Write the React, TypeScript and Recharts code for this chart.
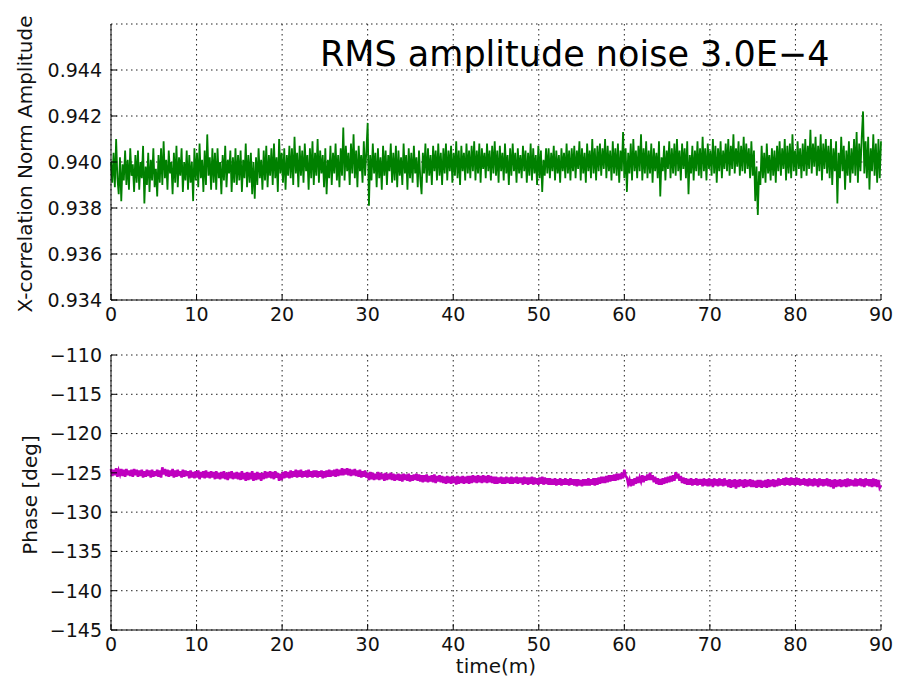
import React from 'react'
import { LineChart, Line, XAxis, YAxis, CartesianGrid, Customized } from 'recharts'

// sampling step of both traces, minutes
const STEP = 0.15

// X-correlation normalised amplitude, one value per STEP (0 .. 90 min)
const amplitude = [
  0.94, 0.9391, 0.9404, 0.9389, 0.941, 0.9393, 0.9386, 0.9402, 0.9383, 0.9399,
  0.9392, 0.9405, 0.939, 0.9401, 0.9388, 0.9406, 0.9394, 0.9399, 0.9387, 0.9403,
  0.9391, 0.9405, 0.9388, 0.94, 0.9393, 0.9407, 0.9382, 0.9398, 0.939, 0.9404,
  0.9387, 0.9401, 0.9392, 0.9406, 0.9389, 0.9397, 0.9385, 0.9403, 0.9391, 0.9406,
  0.939, 0.9409, 0.9393, 0.9401, 0.9388, 0.9405, 0.9395, 0.94, 0.9386, 0.9404,
  0.9391, 0.9407, 0.9389, 0.9402, 0.9394, 0.9406, 0.9387, 0.94, 0.9392, 0.9405,
  0.9388, 0.9403, 0.9391, 0.94, 0.9383, 0.9406, 0.9392, 0.9404, 0.9389, 0.9408,
  0.9393, 0.9401, 0.9387, 0.9405, 0.939, 0.9412, 0.9394, 0.9402, 0.9388, 0.9406,
  0.9391, 0.9404, 0.9388, 0.9406, 0.9393, 0.94, 0.9386, 0.9403, 0.9392, 0.9407,
  0.9389, 0.9401, 0.9395, 0.9405, 0.9387, 0.9402, 0.9391, 0.9406, 0.939, 0.9403,
  0.9392, 0.9405, 0.9387, 0.9401, 0.9393, 0.9408, 0.9389, 0.9403, 0.9391, 0.9404,
  0.9386, 0.94, 0.9384, 0.9402, 0.939, 0.9406, 0.9393, 0.9401, 0.9388, 0.9405,
  0.9392, 0.9407, 0.9389, 0.9403, 0.9394, 0.9406, 0.939, 0.9408, 0.9393, 0.9402,
  0.9387, 0.941, 0.9395, 0.9404, 0.9391, 0.9406, 0.9388, 0.9403, 0.9394, 0.9407,
  0.9393, 0.9406, 0.939, 0.9411, 0.9395, 0.9404, 0.9389, 0.9407, 0.9394, 0.9405,
  0.9391, 0.9408, 0.9396, 0.9403, 0.9388, 0.9406, 0.9393, 0.9409, 0.939, 0.9404,
  0.9394, 0.941, 0.9391, 0.9405, 0.9395, 0.9403, 0.9389, 0.9406, 0.9386, 0.9401,
  0.9393, 0.9407, 0.939, 0.9404, 0.9395, 0.9408, 0.9392, 0.9403, 0.9389, 0.9406,
  0.9394, 0.9415, 0.9392, 0.9407, 0.9396, 0.9404, 0.939, 0.9408, 0.9395, 0.9412,
  0.9393, 0.9405, 0.9389, 0.9407, 0.9396, 0.9403, 0.9391, 0.9409, 0.9394, 0.9405,
  0.9417, 0.9381, 0.9403, 0.9392, 0.9408, 0.9395, 0.9404, 0.9389, 0.9406, 0.9393,
  0.9402, 0.9388, 0.9407, 0.9394, 0.9405, 0.939, 0.9403, 0.9396, 0.9408, 0.9391,
  0.9404, 0.9392, 0.9407, 0.9389, 0.9405, 0.9394, 0.9402, 0.939, 0.9408, 0.9395,
  0.9403, 0.9388, 0.9406, 0.9393, 0.9404, 0.9391, 0.9407, 0.9395, 0.9402, 0.9389,
  0.9405, 0.9393, 0.9386, 0.9404, 0.9395, 0.9408, 0.9391, 0.9406, 0.9394, 0.9403,
  0.939, 0.9407, 0.9396, 0.9405, 0.9392, 0.9408, 0.9394, 0.9404, 0.939, 0.9406,
  0.9395, 0.9408, 0.9392, 0.9405, 0.9396, 0.9407, 0.9391, 0.9404, 0.9394, 0.9409,
  0.9393, 0.9405, 0.939, 0.9407, 0.9396, 0.9404, 0.9392, 0.9408, 0.9395, 0.9405,
  0.9393, 0.9407, 0.9396, 0.9409, 0.9392, 0.9405, 0.9395, 0.9408, 0.9391, 0.9406,
  0.9397, 0.9404, 0.9393, 0.9408, 0.9396, 0.9405, 0.9392, 0.9407, 0.9395, 0.9409,
  0.9394, 0.9405, 0.9391, 0.9407, 0.9396, 0.9404, 0.9392, 0.9408, 0.9395, 0.9403,
  0.939, 0.9406, 0.9394, 0.9408, 0.9396, 0.9404, 0.9391, 0.9406, 0.9395, 0.9403,
  0.9393, 0.9407, 0.9396, 0.9405, 0.9391, 0.9404, 0.9394, 0.9408, 0.9392, 0.9406,
  0.9395, 0.9403, 0.939, 0.9407, 0.9393, 0.9405, 0.9387, 0.9401, 0.9394, 0.9406,
  0.9395, 0.9406, 0.9393, 0.9404, 0.9396, 0.9407, 0.9392, 0.9405, 0.9395, 0.9403,
  0.9391, 0.9406, 0.9396, 0.9404, 0.9393, 0.9408, 0.9395, 0.9405, 0.9392, 0.9406,
  0.9396, 0.9407, 0.9393, 0.9405, 0.9397, 0.9409, 0.9392, 0.9406, 0.9395, 0.9404,
  0.9391, 0.9408, 0.9396, 0.9405, 0.9393, 0.941, 0.9395, 0.9406, 0.9392, 0.9407,
  0.9396, 0.9408, 0.9394, 0.9406, 0.9397, 0.941, 0.9393, 0.9407, 0.9396, 0.9405,
  0.9392, 0.9409, 0.9395, 0.9406, 0.9394, 0.9408, 0.9391, 0.9405, 0.9396, 0.9413,
  0.9393, 0.9406, 0.9387, 0.9404, 0.9395, 0.9408, 0.9392, 0.941, 0.9396, 0.9405,
  0.9393, 0.9407, 0.9396, 0.9412, 0.9392, 0.9406, 0.9395, 0.9409, 0.9393, 0.9405,
  0.9395, 0.9408, 0.9391, 0.9406, 0.9396, 0.9404, 0.9393, 0.9409, 0.9385, 0.9402,
  0.9396, 0.9407, 0.9392, 0.9405, 0.9397, 0.9409, 0.9393, 0.9406, 0.9395, 0.9408,
  0.9394, 0.941, 0.9396, 0.9405, 0.9392, 0.9408, 0.9397, 0.9406, 0.9393, 0.9409,
  0.9386, 0.9403, 0.9395, 0.9407, 0.9392, 0.9405, 0.9396, 0.9409, 0.9394, 0.9406,
  0.9393, 0.9411, 0.9396, 0.9406, 0.9392, 0.9408, 0.9397, 0.9405, 0.9394, 0.941,
  0.9395, 0.9407, 0.9391, 0.9406, 0.9396, 0.9409, 0.9393, 0.9405, 0.9397, 0.9408,
  0.9396, 0.941, 0.9394, 0.9407, 0.9397, 0.9412, 0.9395, 0.9406, 0.9398, 0.9409,
  0.9394, 0.9407, 0.9396, 0.9411, 0.9395, 0.9408, 0.9397, 0.9406, 0.9393, 0.9409,
  0.9394, 0.9405, 0.9383, 0.9398, 0.9377, 0.9396, 0.939, 0.9407, 0.9393, 0.9404,
  0.9391, 0.9408, 0.9395, 0.9403, 0.9392, 0.9406, 0.9394, 0.9405, 0.9391, 0.9407,
  0.9396, 0.9409, 0.9394, 0.9406, 0.9397, 0.941, 0.9392, 0.9407, 0.9395, 0.9408,
  0.9393, 0.9412, 0.9396, 0.9405, 0.9394, 0.9409, 0.9397, 0.9406, 0.9393, 0.9408,
  0.9396, 0.941, 0.9394, 0.9407, 0.9397, 0.9414, 0.9395, 0.9408, 0.9398, 0.9411,
  0.9394, 0.9407, 0.9396, 0.9412, 0.9392, 0.9408, 0.9397, 0.941, 0.9395, 0.9407,
  0.9393, 0.941, 0.939, 0.9406, 0.9396, 0.9409, 0.9382, 0.9404, 0.9393, 0.9411,
  0.9396, 0.9407, 0.9388, 0.9405, 0.9394, 0.9409, 0.9391, 0.9406, 0.9395, 0.941,
  0.9394, 0.9413, 0.9391, 0.9408, 0.9396, 0.9411, 0.9422, 0.9395, 0.9409, 0.9393,
  0.9411, 0.9388, 0.9406, 0.9396, 0.9412, 0.9394, 0.9408, 0.9391, 0.941, 0.9393,
  0.9409,
]

// phase in degrees, one value per STEP (0 .. 90 min)
const phase = [
  -124.5, -125.4, -124.6, -125.3, -124.4, -125.5, -124.7, -125.2, -124.5, -125.4,
  -124.6, -125.5, -124.5, -125.3, -124.7, -125.4, -124.6, -125.5, -124.5, -125.3,
  -124.6, -125.5, -124.7, -125.4, -124.6, -125.6, -124.8, -125.5, -124.6, -125.4,
  -124.7, -125.6, -124.6, -125.5, -124.8, -125.4, -124.6, -125.5, -124.7, -125.6,
  -124.3, -125.2, -124.5, -125.4, -124.6, -125.5, -124.7, -125.4, -124.5, -125.6,
  -124.7, -125.5, -124.6, -125.4, -124.8, -125.6, -124.6, -125.5, -124.7, -125.4,
  -124.8, -125.7, -124.7, -125.6, -124.9, -125.7, -124.8, -125.6, -124.7, -125.8,
  -124.9, -125.6, -124.8, -125.7, -124.7, -125.6, -124.9, -125.7, -124.8, -125.6,
  -124.9, -125.8, -124.8, -125.7, -125.0, -125.8, -124.9, -125.7, -124.8, -125.8,
  -125.0, -125.9, -124.9, -125.7, -124.8, -125.8, -125.0, -125.7, -124.9, -125.8,
  -125.0, -125.9, -124.8, -125.8, -125.0, -126.0, -124.9, -125.9, -125.0, -125.8,
  -124.8, -126.0, -125.0, -125.9, -124.9, -125.8, -125.0, -126.0, -125.0, -125.8,
  -124.8, -125.7, -124.9, -125.6, -124.8, -125.7, -124.9, -125.8, -124.8, -125.6,
  -125.0, -126.0, -125.1, -125.9, -124.9, -125.7, -124.8, -125.6, -124.9, -125.7,
  -124.7, -125.6, -124.8, -125.5, -124.6, -125.6, -124.7, -125.5, -124.6, -125.6,
  -124.8, -125.5, -124.7, -125.6, -124.6, -125.5, -124.8, -125.6, -124.7, -125.5,
  -124.7, -125.6, -124.8, -125.5, -124.7, -125.7, -124.8, -125.6, -124.7, -125.5,
  -124.6, -125.5, -124.7, -125.4, -124.6, -125.5, -124.5, -125.4, -124.6, -125.3,
  -124.4, -125.3, -124.5, -125.2, -124.4, -125.3, -124.5, -125.4, -124.6, -125.3,
  -124.5, -125.4, -124.7, -125.5, -124.6, -125.6, -124.8, -125.5, -124.7, -125.6,
  -125.0, -125.9, -124.9, -125.8, -125.0, -125.9, -125.1, -125.8, -124.9, -125.9,
  -125.0, -125.8, -125.1, -126.0, -125.0, -125.9, -125.1, -125.8, -125.0, -125.9,
  -125.1, -126.0, -125.2, -125.9, -125.1, -126.0, -125.2, -126.1, -125.1, -125.9,
  -125.2, -126.0, -125.1, -126.1, -125.3, -126.0, -125.2, -125.9, -125.1, -126.0,
  -125.2, -126.1, -125.3, -126.2, -125.3, -126.1, -125.2, -126.2, -125.4, -126.1,
  -125.3, -126.2, -125.2, -126.3, -125.4, -126.1, -125.3, -126.2, -125.4, -126.3,
  -125.5, -126.4, -125.4, -126.3, -125.5, -126.4, -125.4, -126.3, -125.5, -126.5,
  -125.4, -126.4, -125.5, -126.3, -125.4, -126.4, -125.5, -126.3, -125.4, -126.4,
  -125.4, -126.3, -125.3, -126.2, -125.4, -126.3, -125.3, -126.2, -125.4, -126.3,
  -125.3, -126.2, -125.4, -126.3, -125.3, -126.2, -125.4, -126.3, -125.5, -126.4,
  -125.5, -126.4, -125.6, -126.3, -125.5, -126.4, -125.6, -126.4, -125.5, -126.3,
  -125.6, -126.4, -125.5, -126.4, -125.6, -126.3, -125.5, -126.4, -125.6, -126.3,
  -125.6, -126.5, -125.5, -126.4, -125.6, -126.5, -125.6, -126.4, -125.5, -126.5,
  -125.6, -126.4, -125.7, -126.5, -125.6, -126.4, -125.5, -126.5, -125.6, -126.4,
  -125.7, -126.5, -125.7, -126.5, -125.8, -126.5, -125.7, -126.6, -125.8, -126.5,
  -125.7, -126.6, -125.8, -126.5, -125.7, -126.5, -125.8, -126.6, -125.7, -126.5,
  -125.8, -126.6, -125.8, -126.7, -125.8, -126.6, -125.9, -126.7, -125.8, -126.6,
  -125.8, -126.6, -125.7, -126.6, -125.8, -126.5, -125.7, -126.6, -125.7, -126.5,
  -125.6, -126.4, -125.5, -126.3, -125.5, -126.3, -125.4, -126.2, -125.3, -126.1,
  -125.3, -126.0, -125.2, -126.0, -125.1, -125.9, -125.1, -125.8, -125.0, -125.7,
  -124.6, -125.4, -125.6, -126.4, -125.9, -126.7, -125.8, -126.6, -125.7, -126.4,
  -125.5, -126.3, -125.6, -126.1, -125.3, -126.2, -125.4, -126.0, -125.2, -125.9,
  -125.0, -125.9, -125.3, -126.2, -125.5, -126.4, -125.7, -126.5, -125.8, -126.5,
  -125.7, -126.4, -125.6, -126.3, -125.5, -126.2, -125.4, -126.1, -125.3, -126.0,
  -124.9, -125.7, -125.1, -126.0, -125.4, -126.3, -125.6, -126.4, -125.7, -126.5,
  -125.8, -126.5, -125.7, -126.6, -125.8, -126.5, -125.7, -126.6, -125.8, -126.5,
  -125.8, -126.7, -125.7, -126.6, -125.8, -126.7, -125.7, -126.6, -125.8, -126.8,
  -125.7, -126.6, -125.8, -126.7, -125.7, -126.6, -125.8, -126.7, -125.7, -126.6,
  -125.9, -126.8, -125.8, -126.9, -125.9, -126.8, -125.8, -127.0, -125.9, -126.8,
  -125.8, -126.7, -125.9, -126.9, -125.8, -126.8, -125.9, -126.7, -125.8, -126.8,
  -125.9, -126.8, -126.0, -126.9, -125.9, -126.8, -125.9, -126.9, -126.0, -126.8,
  -125.9, -126.9, -125.8, -126.8, -125.9, -126.7, -125.8, -126.8, -125.9, -126.7,
  -125.7, -126.6, -125.8, -126.5, -125.7, -126.6, -125.6, -126.5, -125.7, -126.6,
  -125.6, -126.5, -125.7, -126.6, -125.6, -126.5, -125.7, -126.6, -125.8, -126.5,
  -125.7, -126.6, -125.8, -126.7, -125.7, -126.6, -125.8, -126.7, -125.7, -126.6,
  -125.8, -126.8, -125.7, -126.6, -125.8, -126.7, -125.8, -126.6, -125.7, -126.7,
  -125.8, -126.8, -125.9, -127.0, -125.8, -126.8, -125.9, -126.7, -125.8, -126.8,
  -125.9, -126.7, -125.8, -126.8, -125.7, -126.7, -125.8, -126.6, -125.9, -126.7,
  -125.7, -126.7, -125.8, -126.6, -125.7, -126.7, -125.8, -126.8, -125.7, -126.6,
  -125.8, -126.7, -125.8, -126.8, -125.7, -126.7, -125.8, -126.8, -125.9, -126.9,
  -126.6,
]

const timeTicks = [0, 10, 20, 30, 40, 50, 60, 70, 80, 90]
const ampTicks = [0.934, 0.936, 0.938, 0.94, 0.942, 0.944]
const phaseTicks = [-145, -140, -135, -130, -125, -120, -115, -110]

const ampData = amplitude.map((v, i) => ({ t: +(i * STEP).toFixed(2), v }))
const phaseData = phase.map((v, i) => ({ t: +(i * STEP).toFixed(2), v }))

const FONT = '"DejaVu Sans", "Bitstream Vera Sans", sans-serif'
const INK = '#111'
const TICK = 6

const minus = (v: number) => (v < 0 ? '\u2212' + Math.abs(v) : String(v))

// matplotlib-style ticks: short marks pointing into the plot, labels outside
const LeftTick = ({ x, y, payload, fmt }: any) => (
  <g>
    <line x1={x + 9} x2={x + 9 + TICK} y1={y} y2={y} stroke="#000" />
    <text x={x} y={y} dy="0.36em" textAnchor="end" fontSize={19} fontFamily={FONT} fill={INK}>
      {fmt(payload.value)}
    </text>
  </g>
)

const BottomTick = ({ x, y, payload }: any) => (
  <g>
    <line x1={x} x2={x} y1={y - 8} y2={y - 8 - TICK} stroke="#000" />
    <text x={x} y={y + 13} textAnchor="middle" fontSize={19} fontFamily={FONT} fill={INK}>
      {payload.value}
    </text>
  </g>
)

const TopTick = ({ x, y }: any) => <line x1={x} x2={x} y1={y} y2={y + TICK} stroke="#000" />
const RightTick = ({ x, y }: any) => <line x1={x - TICK} x2={x} y1={y} y2={y} stroke="#000" />

const frame = { stroke: '#000', strokeWidth: 1 }

export default function App() {
  return (
    <div style={{ position: 'absolute', left: 0, top: 0, width: 905, height: 682, background: '#fff' }}>
      <div style={{ position: 'absolute', left: 0, top: 0 }}>
        <LineChart width={905} height={330} data={ampData} margin={{ top: 24, right: 24, bottom: 0, left: 0 }}>
          <XAxis
            dataKey="t"
            type="number"
            domain={[0, 90]}
            ticks={timeTicks}
            interval={0}
            height={30}
            tickSize={0}
            tickMargin={8}
            tickLine={false}
            axisLine={frame}
            tick={<BottomTick />}
          />
          <XAxis
            xAxisId="top"
            orientation="top"
            dataKey="t"
            type="number"
            domain={[0, 90]}
            ticks={timeTicks}
            interval={0}
            height={0}
            tickSize={0}
            tickMargin={0}
            tickLine={false}
            axisLine={frame}
            tick={<TopTick />}
          />
          <YAxis
            type="number"
            domain={[0.934, 0.946]}
            ticks={ampTicks}
            interval={0}
            width={111}
            tickSize={0}
            tickMargin={9}
            tickLine={false}
            axisLine={frame}
            tick={<LeftTick fmt={(v: number) => v.toFixed(3)} />}
            allowDataOverflow
          />
          <YAxis
            yAxisId="right"
            orientation="right"
            type="number"
            domain={[0.934, 0.946]}
            ticks={ampTicks}
            interval={0}
            width={0}
            tickSize={0}
            tickMargin={0}
            tickLine={false}
            axisLine={frame}
            tick={<RightTick />}
            allowDataOverflow
          />
          <Line dataKey="v" stroke="#008000" strokeWidth={1.8} dot={false} isAnimationActive={false} />
          <CartesianGrid stroke="#222" strokeDasharray="1.5 3.5" />
          <Customized
            component={() => (
              <g fontFamily={FONT} fill="#000">
                <text x={320} y={66} fontSize={35}>
                  RMS amplitude noise 3.0E{'\u2212'}4
                </text>
                <text x={32} y={164} fontSize={20} textAnchor="middle" transform="rotate(-90 32 164)" fill={INK}>
                  X-correlation Norm Amplitude
                </text>
              </g>
            )}
          />
        </LineChart>
      </div>
      <div style={{ position: 'absolute', left: 0, top: 330 }}>
        <LineChart width={905} height={352} data={phaseData} margin={{ top: 25, right: 24, bottom: 0, left: 0 }}>
          <XAxis
            dataKey="t"
            type="number"
            domain={[0, 90]}
            ticks={timeTicks}
            interval={0}
            height={52}
            tickSize={0}
            tickMargin={8}
            tickLine={false}
            axisLine={frame}
            tick={<BottomTick />}
          />
          <XAxis
            xAxisId="top"
            orientation="top"
            dataKey="t"
            type="number"
            domain={[0, 90]}
            ticks={timeTicks}
            interval={0}
            height={0}
            tickSize={0}
            tickMargin={0}
            tickLine={false}
            axisLine={frame}
            tick={<TopTick />}
          />
          <YAxis
            type="number"
            domain={[-145, -110]}
            ticks={phaseTicks}
            interval={0}
            width={111}
            tickSize={0}
            tickMargin={9}
            tickLine={false}
            axisLine={frame}
            tick={<LeftTick fmt={minus} />}
            allowDataOverflow
          />
          <YAxis
            yAxisId="right"
            orientation="right"
            type="number"
            domain={[-145, -110]}
            ticks={phaseTicks}
            interval={0}
            width={0}
            tickSize={0}
            tickMargin={0}
            tickLine={false}
            axisLine={frame}
            tick={<RightTick />}
            allowDataOverflow
          />
          <Line dataKey="v" stroke="#bf00bf" strokeWidth={2.6} dot={false} isAnimationActive={false} />
          <CartesianGrid stroke="#222" strokeDasharray="1.5 3.5" />
          <Customized
            component={() => (
              <g fontFamily={FONT} fill={INK}>
                <text x={37} y={165} fontSize={20} textAnchor="middle" transform="rotate(-90 37 165)">
                  Phase [deg]
                </text>
                <text x={496} y={343} fontSize={20} textAnchor="middle">
                  time(m)
                </text>
              </g>
            )}
          />
        </LineChart>
      </div>
    </div>
  )
}
